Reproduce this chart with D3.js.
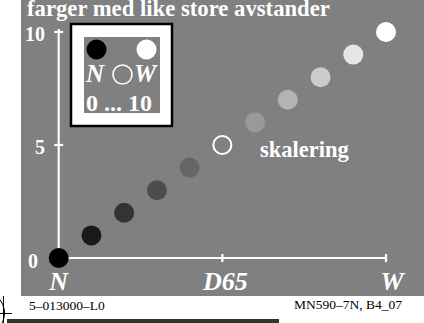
<!DOCTYPE html>
<html>
<head>
<meta charset="utf-8">
<script src="https://cdn.jsdelivr.net/npm/d3@7"></script>
<style>
  html, body { margin: 0; padding: 0; background: #fff; }
  svg { display: block; }
  text { font-family: "Liberation Serif", "Times New Roman", serif; }
</style>
</head>
<body>
<svg id="chart" width="424" height="323"></svg>
<script>
// Equal-step grey scale from black (N) to white (W)
const steps = [0, 1, 2, 3, 4, 5, 6, 7, 8, 9, 10];
const greyLevels = [0, 26, 51, 77, 102, 128, 153, 179, 204, 230, 255];
const hollowStep = 5;
const yTicks = [0, 5, 10];
const yTickLabels = ["0", "5", "10"];
const xTicks = [0, 5, 10];
const xTickLabels = ["N", "D65", "W"];

const svg = d3.select("#chart");
const bg = "#808080";

// grey panel
svg.append("rect").attr("x", 21).attr("y", 0).attr("width", 403).attr("height", 296).attr("fill", bg);

const x = d3.scaleLinear().domain([0, 10]).range([58.7, 386]);
const y = d3.scaleLinear().domain([0, 10]).range([258, 32]);

// title
svg.append("text").attr("x", 27).attr("y", 16)
  .attr("font-size", 22.7).attr("font-weight", "bold").attr("fill", "#fff")
  .text("farger med like store avstander");

// axes
const axes = svg.append("g").attr("stroke", "#fff").attr("stroke-width", 2.2);
axes.append("line").attr("x1", x(0)).attr("x2", x(0)).attr("y1", y(0)).attr("y2", y(10) - 3);
axes.append("line").attr("x1", x(0)).attr("x2", x(10)).attr("y1", y(0)).attr("y2", y(0));
yTicks.filter(d => d > 0).forEach(d => {
  axes.append("line").attr("x1", x(0) - 4.5).attr("x2", x(0) + 4.5).attr("y1", y(d)).attr("y2", y(d));
});
xTicks.filter(d => d > 0).forEach(d => {
  axes.append("line").attr("x1", x(d)).attr("x2", x(d)).attr("y1", y(0) - 4).attr("y2", y(0) + 4);
});

// y tick labels
yTicks.forEach((d, i) => {
  svg.append("text")
    .attr("x", d === 0 ? 38 : 45)
    .attr("y", y(d) + (d === 0 ? 10 : 9))
    .attr("text-anchor", "end")
    .attr("font-size", 20).attr("font-weight", "bold").attr("fill", "#fff")
    .text(yTickLabels[i]);
});

// x tick labels (italic glyphs lean right, so nudge them)
xTicks.forEach((d, i) => {
  svg.append("text")
    .attr("x", x(d) + (d === 10 ? 6 : d === 5 ? 3 : 0)).attr("y", 290)
    .attr("text-anchor", "middle")
    .attr("font-size", 26).attr("font-weight", "bold").attr("font-style", "italic").attr("fill", "#fff")
    .text(xTickLabels[i]);
});

// grey steps
svg.append("g").selectAll("circle").data(steps).join("circle")
  .attr("cx", d => x(d)).attr("cy", d => y(d)).attr("r", d => d === hollowStep ? 9 : 10)
  .attr("fill", (d, i) => d === hollowStep ? "none" : d3.rgb(greyLevels[i], greyLevels[i], greyLevels[i]))
  .attr("stroke", d => d === hollowStep ? "#fff" : "none")
  .attr("stroke-width", 2);

svg.append("text").attr("x", 260).attr("y", 157)
  .attr("font-size", 22.5).attr("font-weight", "bold").attr("fill", "#fff")
  .text("skalering");

// legend
const lg = svg.append("g");
lg.append("rect").attr("x", 71).attr("y", 24).attr("width", 101).attr("height", 102)
  .attr("fill", "#fff").attr("stroke", "#000").attr("stroke-width", 2.5);
lg.append("rect").attr("x", 84).attr("y", 37).attr("width", 76).attr("height", 76).attr("fill", bg);
lg.append("circle").attr("cx", 96.5).attr("cy", 49.5).attr("r", 10).attr("fill", "#000");
lg.append("circle").attr("cx", 146.5).attr("cy", 49.5).attr("r", 10).attr("fill", "#fff");
lg.append("circle").attr("cx", 122.5).attr("cy", 74.5).attr("r", 9.5).attr("fill", "none")
  .attr("stroke", "#fff").attr("stroke-width", 1.6);
lg.append("text").attr("x", 86).attr("y", 82).attr("font-size", 25)
  .attr("font-weight", "bold").attr("font-style", "italic").attr("fill", "#fff").text("N");
lg.append("text").attr("x", 134).attr("y", 82).attr("font-size", 25)
  .attr("font-weight", "bold").attr("font-style", "italic").attr("fill", "#fff").text("W");
lg.append("text").attr("x", 86).attr("y", 111).attr("font-size", 24)
  .attr("font-weight", "bold").attr("fill", "#fff").text("0 ... 10");

// footer
svg.append("text").attr("x", 29).attr("y", 310).attr("font-size", 13.5).attr("fill", "#000")
  .text("5\u2013013000\u2013L0");
svg.append("text").attr("x", 402).attr("y", 309).attr("text-anchor", "end").attr("font-size", 13.5).attr("fill", "#000")
  .text("MN590\u20137N, B4_07");
svg.append("rect").attr("x", 7).attr("y", 319).attr("width", 272).attr("height", 4).attr("fill", "#333");

// registration mark
const reg = svg.append("g").attr("stroke", "#000").attr("fill", "none").attr("stroke-width", 1);
reg.append("circle").attr("cx", -17).attr("cy", 313).attr("r", 21.5);
reg.append("line").attr("x1", 3.5).attr("x2", 3.5).attr("y1", 296).attr("y2", 323);
reg.append("line").attr("x1", 0).attr("x2", 12).attr("y1", 313.5).attr("y2", 313.5);
</script>
</body>
</html>
